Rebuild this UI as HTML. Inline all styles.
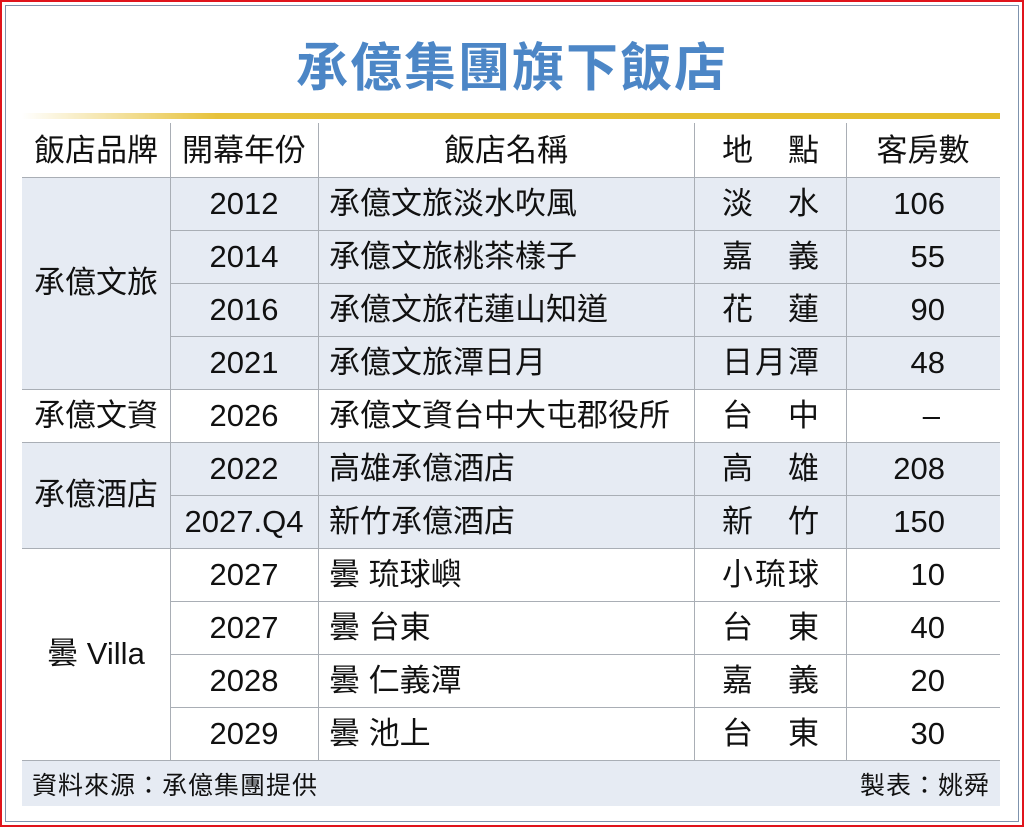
<!DOCTYPE html>
<html><head><meta charset="utf-8"><style>
body{margin:0;width:1024px;height:827px;background:#fff;position:relative;overflow:hidden;font-family:"Liberation Sans","Noto Sans CJK TC",sans-serif;color:#111}
.frame{position:absolute;left:0;top:0;width:1020px;height:823px;border:2px solid #e0141c}
.inner{position:absolute;left:5px;top:5px;width:1012px;height:815px;border:1px solid #7f93ad}
.title{position:absolute;left:0;width:1024px;top:26px;text-align:center;font-size:52px;color:#4c86c6;font-weight:bold;letter-spacing:2px}
.gold{position:absolute;left:22px;top:113px;width:978px;height:6px;background:linear-gradient(90deg,#fff 0%,#e7c23a 20%,#e4bd2a 100%)}
.bg{position:absolute;left:22px;width:978px;background:#e6ebf3}
.h{position:absolute;height:1px;background:#a9aeb5}
.v{position:absolute;width:1px;background:#a9aeb5}
.t{position:absolute;font-size:31px;line-height:53px;height:53px;white-space:nowrap}
.c{text-align:center}
.p{left:722px;letter-spacing:2px}
.n{left:846px;width:99px;text-align:right}
.foot{position:absolute;font-size:25px;top:766px;letter-spacing:1px}
</style></head><body>
<div class="frame"></div><div class="inner"></div>
<div class="title">承億集團旗下飯店</div>
<div class="gold"></div>
<div class="bg" style="top:177px;height:212px"></div>
<div class="bg" style="top:442px;height:106px"></div>
<div class="bg" style="top:760px;height:46px"></div>
<div class="h" style="left:22px;width:978px;top:177px"></div>
<div class="h" style="left:170px;width:830px;top:230px"></div>
<div class="h" style="left:170px;width:830px;top:283px"></div>
<div class="h" style="left:170px;width:830px;top:336px"></div>
<div class="h" style="left:22px;width:978px;top:389px"></div>
<div class="h" style="left:22px;width:978px;top:442px"></div>
<div class="h" style="left:170px;width:830px;top:495px"></div>
<div class="h" style="left:22px;width:978px;top:548px"></div>
<div class="h" style="left:170px;width:830px;top:601px"></div>
<div class="h" style="left:170px;width:830px;top:654px"></div>
<div class="h" style="left:170px;width:830px;top:707px"></div>
<div class="h" style="left:22px;width:978px;top:760px"></div>
<div class="v" style="left:170px;top:123px;height:637px"></div>
<div class="v" style="left:318px;top:123px;height:637px"></div>
<div class="v" style="left:694px;top:123px;height:637px"></div>
<div class="v" style="left:846px;top:123px;height:637px"></div>

<div class="t c" style="left:22px;width:148px;top:124px">飯店品牌</div>
<div class="t c" style="left:170px;width:148px;top:124px">開幕年份</div>
<div class="t c" style="left:318px;width:376px;top:124px">飯店名稱</div>
<div class="t p" style="top:124px">地　點</div>
<div class="t c" style="left:846px;width:154px;top:124px">客房數</div>

<div class="t c" style="left:22px;width:148px;top:256px">承億文旅</div>
<div class="t c" style="left:22px;width:148px;top:389px">承億文資</div>
<div class="t c" style="left:22px;width:148px;top:468px">承億酒店</div>
<div class="t c" style="left:22px;width:148px;top:627px">曇 Villa</div>

<div class="t c" style="left:170px;width:148px;top:177px">2012</div>
<div class="t c" style="left:170px;width:148px;top:230px">2014</div>
<div class="t c" style="left:170px;width:148px;top:283px">2016</div>
<div class="t c" style="left:170px;width:148px;top:336px">2021</div>
<div class="t c" style="left:170px;width:148px;top:389px">2026</div>
<div class="t c" style="left:170px;width:148px;top:442px">2022</div>
<div class="t c" style="left:170px;width:148px;top:495px">2027.Q4</div>
<div class="t c" style="left:170px;width:148px;top:548px">2027</div>
<div class="t c" style="left:170px;width:148px;top:601px">2027</div>
<div class="t c" style="left:170px;width:148px;top:654px">2028</div>
<div class="t c" style="left:170px;width:148px;top:707px">2029</div>

<div class="t" style="left:329px;top:177px">承億文旅淡水吹風</div>
<div class="t" style="left:329px;top:230px">承億文旅桃茶樣子</div>
<div class="t" style="left:329px;top:283px">承億文旅花蓮山知道</div>
<div class="t" style="left:329px;top:336px">承億文旅潭日月</div>
<div class="t" style="left:329px;top:389px">承億文資台中大屯郡役所</div>
<div class="t" style="left:329px;top:442px">高雄承億酒店</div>
<div class="t" style="left:329px;top:495px">新竹承億酒店</div>
<div class="t" style="left:329px;top:548px">曇 琉球嶼</div>
<div class="t" style="left:329px;top:601px">曇 台東</div>
<div class="t" style="left:329px;top:654px">曇 仁義潭</div>
<div class="t" style="left:329px;top:707px">曇 池上</div>

<div class="t p" style="top:177px">淡　水</div>
<div class="t p" style="top:230px">嘉　義</div>
<div class="t p" style="top:283px">花　蓮</div>
<div class="t p" style="top:336px">日月潭</div>
<div class="t p" style="top:389px">台　中</div>
<div class="t p" style="top:442px">高　雄</div>
<div class="t p" style="top:495px">新　竹</div>
<div class="t p" style="top:548px">小琉球</div>
<div class="t p" style="top:601px">台　東</div>
<div class="t p" style="top:654px">嘉　義</div>
<div class="t p" style="top:707px">台　東</div>

<div class="t n" style="top:177px">106</div>
<div class="t n" style="top:230px">55</div>
<div class="t n" style="top:283px">90</div>
<div class="t n" style="top:336px">48</div>
<div class="t n" style="top:389px;width:94px">–</div>
<div class="t n" style="top:442px">208</div>
<div class="t n" style="top:495px">150</div>
<div class="t n" style="top:548px">10</div>
<div class="t n" style="top:601px">40</div>
<div class="t n" style="top:654px">20</div>
<div class="t n" style="top:707px">30</div>

<div class="foot" style="left:32px">資料來源：承億集團提供</div>
<div class="foot" style="right:34px">製表：姚舜</div>
</body></html>
